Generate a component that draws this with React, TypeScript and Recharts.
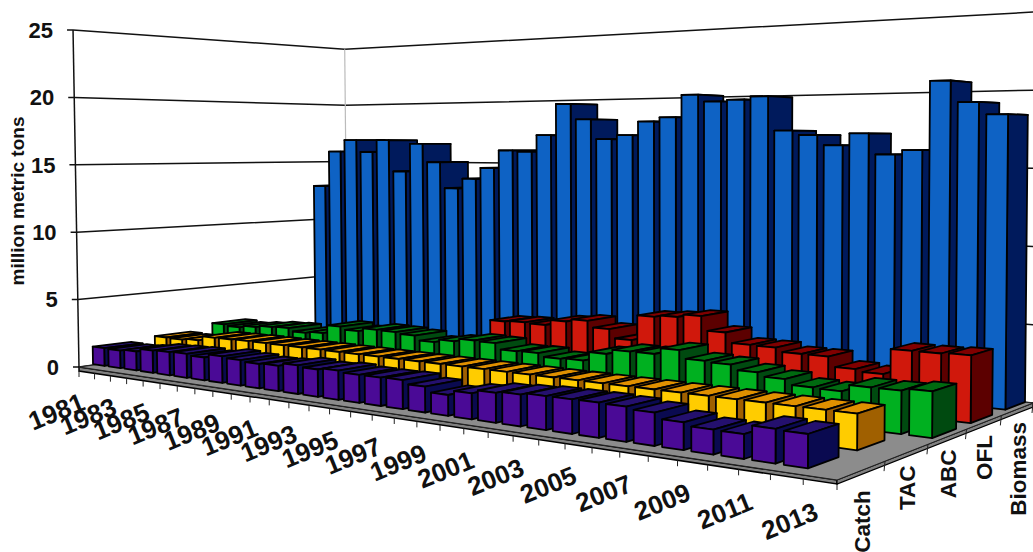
import { Bar, BarChart, CartesianGrid, Customized, XAxis, YAxis } from "recharts";

// Groundfish biomass against catch limits, drawn as a 3-D perspective column chart.
const years = [
  1981, 1982, 1983, 1984, 1985, 1986, 1987, 1988, 1989, 1990, 1991, 1992, 1993, 1994, 1995, 1996, 1997,
  1998, 1999, 2000, 2001, 2002, 2003, 2004, 2005, 2006, 2007, 2008, 2009, 2010, 2011, 2012, 2013,
];
const catchVals = [
  1.31, 1.28, 1.38, 1.6, 1.65, 1.7, 1.6, 1.85, 1.75, 1.65, 1.7, 1.9, 1.8, 1.9, 1.8, 1.8, 1.83, 1.6, 1.28,
  1.57, 1.79, 1.88, 1.98, 1.99, 2.0, 1.97, 1.84, 1.52, 1.34, 1.32, 1.82, 1.77,
];
const tacVals = [
  1.52, 1.5, 1.6, 1.95, 1.97, 2.0, 2.0, 2.0, 2.0, 2.0, 2.0, 2.0, 2.0, 2.0, 2.0, 2.0, 2.0, 2.0, 2.0, 2.0,
  2.0, 2.0, 2.0, 2.0, 2.0, 2.0, 2.0, 2.0, 2.0, 2.0, 2.0, 2.0,
];
const abcVals = [
  2.0, 1.9, 2.05, 2.2, 2.26, 2.04, 2.16, 2.8, 2.6, 2.85, 2.82, 2.72, 2.39, 2.61, 2.82, 2.78, 2.38, 2.41,
  2.19, 2.24, 2.84, 3.15, 3.16, 3.57, 3.06, 2.98, 2.68, 2.45, 2.13, 2.09, 2.5, 2.5, 2.65,
];
const oflVals = [
  null, null, null, null, null, null, null, null, null, null, null, null, null, 3.48, 3.55, 3.5, 3.89,
  4.08, 3.63, 3.01, 4.76, 4.88, 5.08, 4.12, 3.45, 3.43, 3.17, 3.17, 2.54, 2.41, 4.01, 4.01, 4.06,
];
const biomassVals = [
  12.9, 15.9, 16.9, 15.9, 16.9, 14.3, 16.6, 15.1, 13.0, 13.8, 14.7, 16.1, 16.0, 17.3, 19.7, 18.5, 17.0,
  17.3, 18.3, 18.6, 20.2, 19.7, 19.8, 20.0, 17.6, 17.3, 16.6, 17.4, 16.0, 16.3, 20.8, 19.4, 18.6,
];
const seriesNames = ["Catch", "TAC", "ABC", "OFL", "Biomass"];
const valueTicks = [0, 5, 10, 15, 20, 25];

const rows = years.map((year, i) => ({
  year,
  Catch: catchVals[i] ?? null,
  TAC: tacVals[i] ?? null,
  ABC: abcVals[i] ?? null,
  OFL: oflVals[i] ?? null,
  Biomass: biomassVals[i] ?? null,
}));

const faces: Record<string, { front: string; side: string; top: string }> = {
  Catch: { front: "#4a0a96", side: "#0a0a50", top: "#24106e" },
  TAC: { front: "#ffcc00", side: "#a06000", top: "#e09000" },
  ABC: { front: "#00b020", side: "#004a10", top: "#006a10" },
  OFL: { front: "#d0180c", side: "#5c0000", top: "#800000" },
  Biomass: { front: "#0e62c4", side: "#001a5c", top: "#001a5c" },
};

// plot box as the library sees it; value scale is true along the near-left wall edge
const LEFT = 79;
const PLOT_W = 758;
const TOP = 30;
const BOTTOM = 367;

// floor corners on screen: near-left, near-right, far-right, far-left
const floor = [
  [79, 367],
  [837, 480],
  [1033, 403],
  [347.5, 330],
];

const den =
  (floor[1][0] - floor[2][0]) * (floor[3][1] - floor[2][1]) -
  (floor[3][0] - floor[2][0]) * (floor[1][1] - floor[2][1]);
const sx = floor[0][0] - floor[1][0] + floor[2][0] - floor[3][0];
const sy = floor[0][1] - floor[1][1] + floor[2][1] - floor[3][1];
const pg = (sx * (floor[3][1] - floor[2][1]) - (floor[3][0] - floor[2][0]) * sy) / den;
const ph = ((floor[1][0] - floor[2][0]) * sy - sx * (floor[1][1] - floor[2][1])) / den;

// u runs along the years, d runs back through the series, h is pixels on the near-left edge
function project(u: number, d: number, h: number) {
  const w = 1 + pg * u + ph * d;
  const fx = (floor[0][0] + (floor[1][0] - floor[0][0] + pg * floor[1][0]) * u + (floor[3][0] - floor[0][0] + ph * floor[3][0]) * d) / w;
  const fy = (floor[0][1] + (floor[1][1] - floor[0][1] + pg * floor[1][1]) * u + (floor[3][1] - floor[0][1] + ph * floor[3][1]) * d) / w;
  const lift = h / w;
  return { x: fx + lift * (fx - 690) * 2.9e-5, y: fy - lift };
}

const pts = (list: { x: number; y: number }[]) => list.map((p) => `${p.x.toFixed(1)},${p.y.toFixed(1)}`).join(" ");

const uOf = (x: number) => (x - LEFT) / PLOT_W;

const BAR_DEPTH = 0.125;
const rowFront = (row: number) => 0.055 + 0.205 * row;
// columns sit very slightly off the tick spacing along the floor
const barU = (x: number) => uOf(x) * 1.0063 - 0.011;

function columnShape(name: string) {
  const row = seriesNames.indexOf(name);
  const c = faces[name];
  return (props: any) => {
    if (props.value == null || !props.height) return <g />;
    const u0 = barU(props.x);
    const u1 = barU(props.x + props.width);
    const d0 = rowFront(row);
    const d1 = d0 + BAR_DEPTH;
    const h = props.height;
    const edge = { stroke: "#000", strokeWidth: 1.8, strokeLinejoin: "round" as const };
    return (
      <g>
        <polygon points={pts([project(u0, d0, h), project(u1, d0, h), project(u1, d1, h), project(u0, d1, h)])} fill={c.top} {...edge} />
        <polygon points={pts([project(u1, d0, 0), project(u1, d1, 0), project(u1, d1, h), project(u1, d0, h)])} fill={c.side} {...edge} />
        <polygon points={pts([project(u0, d0, 0), project(u1, d0, 0), project(u1, d0, h), project(u0, d0, h)])} fill={c.front} {...edge} />
      </g>
    );
  };
}

function WallLine(props: any) {
  const h = BOTTOM - props.y1;
  const a = project(0, 0, h);
  const b = project(0, 1, h);
  const c = project(1, 1, h * 1.01);
  return <polyline key={props.index} points={`${a.x - 6},${a.y} ${pts([a, b, c])}`} fill="none" stroke="#111" strokeWidth={1.5} />;
}

function FloorLayer() {
  const corners = [project(0, 0, 0), project(1, 0, 0), project(1, 1, 0), project(0, 1, 0)];
  const wallTop = project(0, 0, BOTTOM - TOP);
  const backTop = project(0, 1, BOTTOM - TOP);
  const slab = 4;
  const below = (p: { x: number; y: number }, n: number) => ({ x: p.x, y: p.y + n });
  return (
    <g>
      <line x1={wallTop.x} y1={wallTop.y} x2={corners[0].x} y2={corners[0].y} stroke="#111" strokeWidth={1.5} />
      <line x1={backTop.x} y1={backTop.y} x2={corners[3].x} y2={corners[3].y} stroke="#bbb" strokeWidth={1.2} />
      <polygon points={pts([corners[0], corners[1], below(corners[1], slab), below(corners[0], slab)])} fill="#808080" stroke="#000" strokeWidth={1.5} />
      <polygon points={pts([corners[1], corners[2], below(corners[2], slab), below(corners[1], slab)])} fill="#808080" stroke="#000" strokeWidth={1.2} />
      <polygon points={pts(corners)} fill="#8c8c8c" stroke="#222" strokeWidth={1} />
      {years.map((_, i) => {
        const p = project(i / years.length, 0, 0);
        return <line key={i} x1={p.x} y1={p.y + slab} x2={p.x} y2={p.y + slab + 6} stroke="#222" strokeWidth={1} />;
      })}
      <line x1={corners[1].x} y1={corners[1].y + slab} x2={corners[1].x} y2={corners[1].y + slab + 6} stroke="#222" />
      {seriesNames.map((_, i) => {
        const p = project(1, (i + 1) / seriesNames.length, 0);
        return <line key={i} x1={p.x} y1={p.y} x2={p.x - 1} y2={p.y + 10} stroke="#222" strokeWidth={1} />;
      })}
      {seriesNames.map((name, i) => {
        const p = project(1, (i + 0.5) / seriesNames.length, 0);
        const drop = i === 0 ? 20 : 13;
        return (
          <text key={name} transform={`translate(${p.x + 8},${p.y + drop}) rotate(-90)`} textAnchor="end" fontSize={22.5} fontWeight={700} fontFamily="Liberation Sans" fill="#111">
            {name}
          </text>
        );
      })}
      <text transform="translate(24,201) rotate(-90)" textAnchor="middle" fontSize={19} fontWeight={700} fontFamily="Liberation Sans" fill="#111">
        million metric tons
      </text>
    </g>
  );
}

function YearTick(props: any) {
  const p = project(uOf(props.x), 0, 0);
  return (
    <text transform={`translate(${p.x},${p.y + 41}) rotate(-22)`} textAnchor="end" fontSize={26} fontWeight={700} fontFamily="Liberation Sans" fill="#111">
      {props.payload.value}
    </text>
  );
}

function ValueTick(props: any) {
  const p = project(0, 0, BOTTOM - props.y);
  return (
    <text x={p.x - 20} y={props.y} dy="0.35em" textAnchor="end" fontSize={22} fontWeight={700} fontFamily="Liberation Sans" fill="#111">
      {props.payload.value}
    </text>
  );
}

export default function App() {
  return (
    <div style={{ position: "absolute", left: 0, top: 0, width: 1033, height: 552, background: "#fff", overflow: "hidden" }}>
      <BarChart
        width={1033}
        height={552}
        data={rows}
        margin={{ top: TOP, right: 1033 - LEFT - PLOT_W, bottom: 552 - BOTTOM - 1, left: 0 }}
        barCategoryGap="13.5%"
      >
        <CartesianGrid xAxisId="Catch" vertical={false} horizontal={WallLine} />
        <Customized component={FloorLayer} />
        <XAxis xAxisId="Catch" dataKey="year" height={1} axisLine={false} tickLine={false} interval={1} tick={YearTick} />
        <XAxis xAxisId="TAC" dataKey="year" hide />
        <XAxis xAxisId="ABC" dataKey="year" hide />
        <XAxis xAxisId="OFL" dataKey="year" hide />
        <XAxis xAxisId="Biomass" dataKey="year" hide />
        <YAxis width={LEFT} domain={[0, 25]} ticks={valueTicks} axisLine={false} tickLine={false} tick={ValueTick} />
        {[...seriesNames].reverse().map((name) => (
          <Bar key={name} xAxisId={name} dataKey={name} shape={columnShape(name)} isAnimationActive={false} />
        ))}
      </BarChart>
    </div>
  );
}
